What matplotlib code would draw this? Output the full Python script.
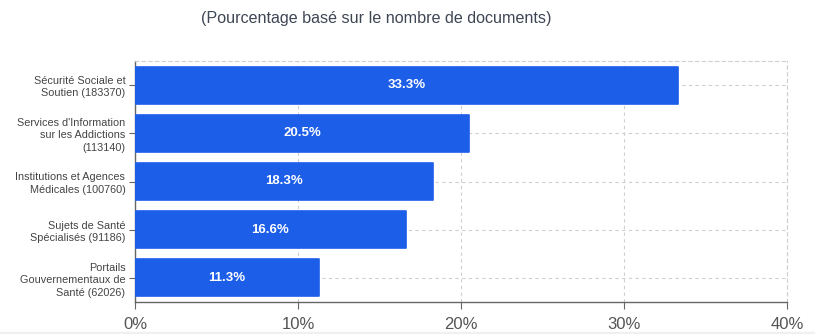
import matplotlib.pyplot as plt

categories = [
    "Sécurité Sociale et\nSoutien (183370)",
    "Services d'Information\nsur les Addictions\n(113140)",
    "Institutions et Agences\nMédicales (100760)",
    "Sujets de Santé\nSpécialisés (91186)",
    "Portails\nGouvernementaux de\nSanté (62026)",
]
percents = [33.3, 20.5, 18.3, 16.6, 11.3]
xticks = [0, 10, 20, 30, 40]

BLUE = "#1c5ee8"
GRID = "#cfcfcf"

plt.rcParams['font.family'] = ['Liberation Sans', 'DejaVu Sans']

fig = plt.figure(figsize=(8.15, 3.34), dpi=100)
ax = fig.add_axes([135 / 815, 1 - 302 / 334, 652 / 815, 241 / 334])

ypos = list(range(len(categories)))
bars = ax.barh(ypos, percents, height=0.77, color=BLUE, edgecolor=BLUE,
               linewidth=1.2, joinstyle='round', zorder=3)

for b, v in zip(bars, percents):
    ax.text(b.get_width() / 2, b.get_y() + b.get_height() / 2, f"{v}%",
            ha='center', va='center', color='white', fontsize=9.5,
            fontweight='bold', zorder=4)

ax.set_xlim(0, 40)
ax.set_ylim(len(categories) - 0.5, -0.5)
ax.set_xticks(xticks)
ax.set_xticklabels([f"{t}%" for t in xticks], fontsize=12, color='#555555')
ax.set_yticks(ypos)
ax.set_yticklabels(categories, fontsize=7.8, color='#444444', linespacing=1.3)

ax.grid(True, color=GRID, linestyle=(0, (3, 3)), linewidth=0.8, zorder=0)
ax.tick_params(axis='x', length=5, color='#666666', pad=6)
ax.tick_params(axis='y', length=4, color='#666666', pad=3)

for side in ('top', 'right'):
    ax.spines[side].set_color(GRID)
    ax.spines[side].set_linestyle((0, (3, 3)))
    ax.spines[side].set_linewidth(0.8)
for side in ('left', 'bottom'):
    ax.spines[side].set_color('#666666')
    ax.spines[side].set_linewidth(1.0)

fig.text(376 / 815, 1 - 19 / 334, "(Pourcentage basé sur le nombre de documents)",
         ha='center', va='center', fontsize=11.6, color='#3f4654')

# thin footer strip
fig.patches.append(plt.Rectangle((0, 0), 1, 2 / 334, transform=fig.transFigure,
                                 color='#f0f0f0', zorder=0))

fig.savefig("out.png", dpi=100)
